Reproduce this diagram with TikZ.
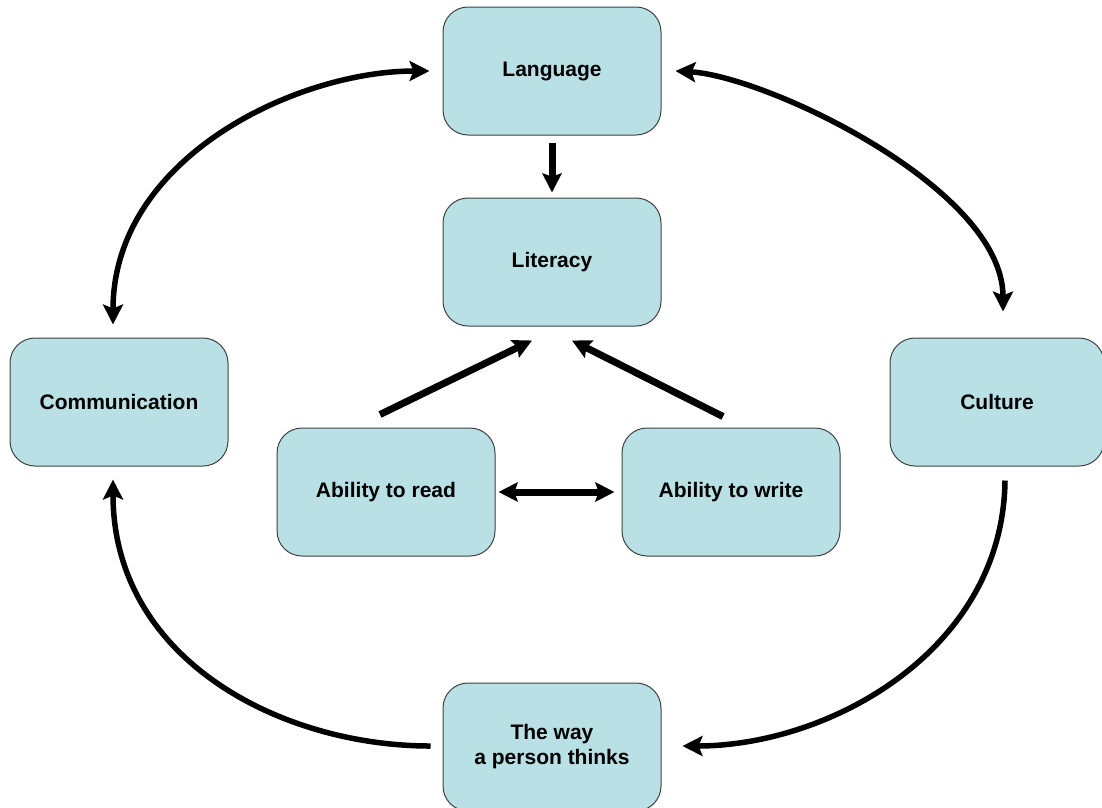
\documentclass[tikz,border=0pt]{standalone}
\usepackage{fontspec}
\setmainfont{Liberation Sans}
\usetikzlibrary{arrows.meta,calc}
\definecolor{boxfill}{RGB}{185,224,228}
\definecolor{boxline}{RGB}{64,64,64}
\begin{document}
\begin{tikzpicture}[x=1pt,y=-1pt,
  box/.style={draw=boxline, line width=1pt, fill=boxfill, rounded corners=25pt,
    minimum width=218pt, minimum height=128pt, inner sep=0pt, align=center,
    font=\fontsize{21}{25}\selectfont\bfseries},
  carr/.style={line width=5.5pt, >={Stealth[length=20pt,width=20pt,inset=4pt]}},
  sarr/.style={line width=7pt, >={Stealth[length=19pt,width=19pt,inset=3pt]}}]
\useasboundingbox (0,0) rectangle (1102,807);

% boxes
\node[box] (lang)  at (552,71)  {Language};
\node[box] (lit)   at (552,262) {Literacy};
\node[box] (comm)  at (119,402) {Communication};
\node[box, minimum width=214pt] (cult) at (997,402) {Culture};
\node[box] (read)  at (386,492) {Ability to read};
\node[box] (write) at (731,492) {Ability to write};
\node[box] (way)   at (552,747) {The way\\a person thinks};

% straight connectors
\draw[sarr,->] ($(lang.south)+(0,7)$) -- ($(lit.north)+(0,-5)$);
\draw[sarr,->] ($(read.north)+(-6,-13)$) -- ($(lit.south)+(-20,14)$);
\draw[sarr,->] ($(write.north)+(-8,-11)$) -- ($(lit.south)+(20,14)$);
\draw[sarr,<->] ($(read.east)+(3,0)$) -- ($(write.west)+(-7,0)$);

% outer cycle
\draw[carr,<->] ($(lang.west)+(-13,0)$) .. controls (296,71) and (113,158) .. ($(comm.north)+(-6,-13)$);
\draw[carr,<->] ($(lang.east)+(14,0)$) .. controls (766,76) and (1003,188) .. ($(cult.north)+(6,-26)$);
\draw[carr,->] ($(cult.south)+(8,14)$) .. controls (1003,650) and (830,746) .. ($(way.east)+(21,-1)$);
\draw[carr,->] ($(way.west)+(-12,-1)$) .. controls (280,746) and (113,659) .. ($(comm.south)+(-6,13)$);
\end{tikzpicture}
\end{document}
